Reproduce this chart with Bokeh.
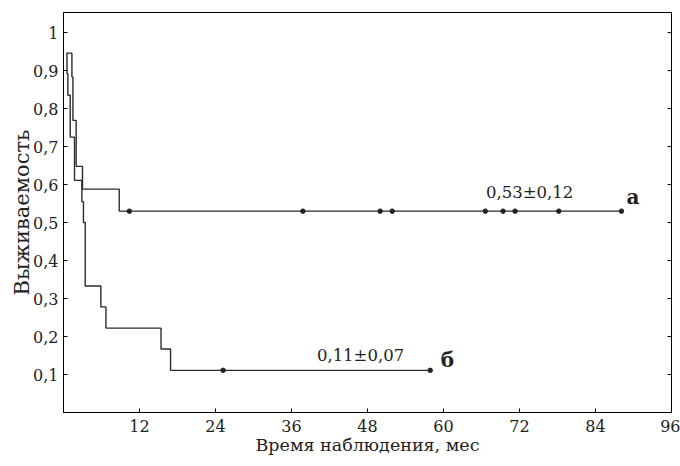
import numpy as np
from bokeh.plotting import figure
from bokeh.models import Range1d, FixedTicker, CustomJSTickFormatter, Label
from bokeh.embed import file_html
from bokeh.resources import INLINE

# ---- data ----
x_ticks = [12, 24, 36, 48, 60, 72, 84, 96]
y_ticks = [0.1, 0.2, 0.3, 0.4, 0.5, 0.6, 0.7, 0.8, 0.9, 1.0]

# curve "а": step times and survival after each step
a_times = [0.5, 1.33, 1.49, 2.0, 3.0, 8.8]
a_surv = [0.946, 0.883, 0.769, 0.648, 0.588, 0.53]
a_censored = [10.4, 37.8, 50.0, 51.9, 66.6, 69.4, 71.3, 78.2, 88.1]

# curve "б"
b_times = [0.5, 0.55, 0.69, 1.06, 1.74, 2.9, 3.15, 3.43, 5.9, 6.7, 15.4, 16.9]
b_surv = [0.946, 0.892, 0.835, 0.725, 0.611, 0.555, 0.50, 0.333, 0.278, 0.222, 0.167, 0.111]
b_censored = [25.2, 57.9]

a_note = "0,53±0,12"
b_note = "0,11±0,07"
a_name = "а"
b_name = "б"
x_title = "Время наблюдения, мес"
y_title = "Выживаемость"

FONT = "DejaVu Serif"
INK = "#222222"
LINE = "#2b2b2b"

X_MAX = 96
Y_MAX = 1.053

p = figure(width=680, height=466, x_range=Range1d(0, X_MAX), y_range=Range1d(0, Y_MAX),
           output_backend="svg", toolbar_location=None,
           min_border_left=63, min_border_right=9, min_border_top=12, min_border_bottom=54)
p.grid.visible = False
p.background_fill_color = "white"
p.border_fill_color = "white"
p.outline_line_color = "black"
p.outline_line_width = 1


def step_xy(times, surv, end):
    return list(times) + [end], list(surv) + [surv[-1]]


def surv_at(times, surv, t):
    i = np.searchsorted(np.asarray(times), t, side="right") - 1
    return surv[i]


for times, surv, cens in ((a_times, a_surv, a_censored), (b_times, b_surv, b_censored)):
    xs, ys = step_xy(times, surv, max(cens))
    p.step(xs, ys, mode="after", line_color=LINE, line_width=1.4)
    p.scatter(cens, [surv_at(times, surv, c) for c in cens], size=4.5, color=INK)

# inward tick marks on the right edge of the frame
p.ray(x=[x_ticks[-1]] * len(y_ticks), y=y_ticks, length=4, length_units="screen",
      angle=np.pi, line_color="black", line_width=1)

# axes
p.xaxis.ticker = FixedTicker(ticks=x_ticks)
p.yaxis.ticker = FixedTicker(ticks=y_ticks)
p.yaxis.formatter = CustomJSTickFormatter(code="""
    if (Math.abs(tick - 1) < 1e-9) return '1';
    return tick.toFixed(1).replace('.', ',');
""")
for ax in (p.xaxis[0], p.yaxis[0]):
    ax.major_tick_in = 4
    ax.major_tick_out = 0
    ax.minor_tick_in = 0
    ax.minor_tick_out = 0
    ax.axis_line_color = "black"
    ax.major_tick_line_color = "black"
    ax.major_label_text_font = FONT
    ax.major_label_text_font_size = "16px"
    ax.major_label_text_color = INK
    ax.axis_label_text_font = FONT
    ax.axis_label_text_font_style = "normal"
    ax.axis_label_text_color = INK

p.xaxis.axis_label = x_title
p.yaxis.axis_label = y_title
p.xaxis.axis_label_text_font_size = "17.5px"
p.yaxis.axis_label_text_font_size = "21px"
p.xaxis.major_label_standoff = 7
p.xaxis.axis_label_standoff = 0
p.yaxis.major_label_standoff = 5
p.yaxis.axis_label_standoff = -4

# annotations
p.add_layout(Label(x=73.6, y=0.58, text=a_note, text_align="center", text_baseline="middle",
                   text_font=FONT, text_font_size="16.5px", text_color=INK))
p.add_layout(Label(x=89.9, y=0.567, text=a_name, text_align="center", text_baseline="middle",
                   text_font=FONT, text_font_size="20px", text_font_style="bold", text_color=INK))
p.add_layout(Label(x=46.9, y=0.151, text=b_note, text_align="center", text_baseline="middle",
                   text_font=FONT, text_font_size="16.5px", text_color=INK))
p.add_layout(Label(x=60.6, y=0.138, text=b_name, text_align="center", text_baseline="middle",
                   text_font=FONT, text_font_size="20px", text_font_style="bold", text_color=INK))

open("out.html", "w").write(file_html(p, INLINE))
